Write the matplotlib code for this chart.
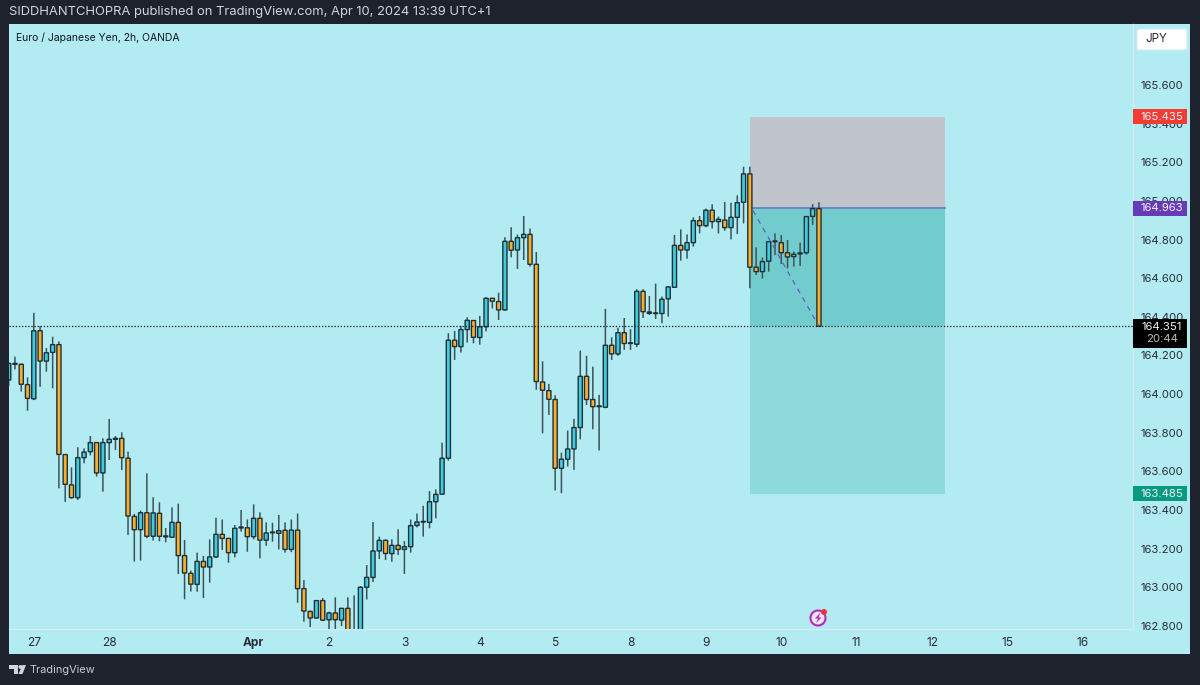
import matplotlib
matplotlib.use("Agg")
import matplotlib.pyplot as plt
from matplotlib.patches import Rectangle, FancyBboxPatch, Polygon, Circle
from matplotlib.transforms import blended_transform_factory

plt.rcParams['font.family'] = ['Inter', 'DejaVu Sans']

# 2h candles
opens = [164.073, 164.159, 164.154, 164.049, 163.976, 164.328, 164.171, 164.216, 164.256, 163.687,
         163.530, 163.464, 163.671, 163.702, 163.749, 163.592, 163.749, 163.771, 163.771, 163.668,
         163.367, 163.298, 163.386, 163.264, 163.383, 163.266, 163.259, 163.336, 163.164, 163.072,
         163.015, 163.134, 163.105, 163.157, 163.274, 163.253, 163.179, 163.312, 163.308, 163.262,
         163.357, 163.244, 163.286, 163.279, 163.295, 163.196, 163.296, 162.993, 162.875, 162.841,
         162.931, 162.832, 162.867, 162.830, 162.891, 162.700, 162.700, 163.000, 163.051, 163.188,
         163.243, 163.174, 163.217, 163.196, 163.210, 163.320, 163.341, 163.336, 163.443, 163.482,
         163.668, 164.279, 164.246, 164.334, 164.381, 164.293, 164.349, 164.496, 164.479, 164.436,
         164.791, 164.746, 164.810, 164.827, 164.672, 164.063, 164.018, 163.972, 163.616, 163.663,
         163.716, 163.827, 164.092, 163.972, 163.939, 163.932, 164.253, 164.208, 164.318, 164.265,
         164.258, 164.532, 164.425, 164.420, 164.417, 164.493, 164.553, 164.770, 164.746, 164.784,
         164.898, 164.872, 164.952, 164.893, 164.901, 164.862, 164.915, 164.993, 165.140, 164.657,
         164.634, 164.688, 164.793, 164.784, 164.732, 164.712, 164.731, 164.732, 164.920, 164.960]
closes = [164.159, 164.154, 164.051, 163.978, 164.328, 164.171, 164.214, 164.256, 163.688, 163.533,
          163.464, 163.671, 163.700, 163.749, 163.592, 163.749, 163.766, 163.766, 163.671, 163.369,
          163.298, 163.386, 163.264, 163.385, 163.264, 163.261, 163.336, 163.164, 163.074, 163.016,
          163.134, 163.105, 163.157, 163.274, 163.253, 163.179, 163.305, 163.307, 163.262, 163.357,
          163.244, 163.281, 163.282, 163.293, 163.196, 163.296, 162.993, 162.877, 162.841, 162.931,
          162.830, 162.867, 162.832, 162.891, 162.700, 162.600, 163.000, 163.051, 163.188, 163.243,
          163.175, 163.217, 163.196, 163.210, 163.319, 163.338, 163.338, 163.443, 163.481, 163.668,
          164.279, 164.246, 164.334, 164.382, 164.294, 164.349, 164.496, 164.481, 164.436, 164.791,
          164.745, 164.810, 164.827, 164.672, 164.065, 164.020, 163.973, 163.616, 163.663, 163.716,
          163.827, 164.092, 163.972, 163.935, 163.935, 164.253, 164.208, 164.318, 164.262, 164.262,
          164.532, 164.427, 164.418, 164.417, 164.491, 164.555, 164.770, 164.746, 164.784, 164.898,
          164.872, 164.952, 164.893, 164.905, 164.862, 164.915, 164.991, 165.140, 164.657, 164.634,
          164.686, 164.789, 164.789, 164.732, 164.710, 164.724, 164.726, 164.919, 164.960, 164.351]
highs = [164.159, 164.194, 164.159, 164.087, 164.421, 164.352, 164.239, 164.297, 164.273, 163.687,
         163.621, 163.725, 163.719, 163.783, 163.749, 163.771, 163.871, 163.783, 163.802, 163.702,
         163.380, 163.397, 163.590, 163.466, 163.440, 163.307, 163.414, 163.433, 163.245, 163.086,
         163.179, 163.162, 163.248, 163.360, 163.351, 163.253, 163.322, 163.400, 163.351, 163.429,
         163.388, 163.336, 163.334, 163.374, 163.336, 163.351, 163.382, 163.037, 162.879, 162.931,
         162.944, 162.874, 162.948, 162.891, 162.948, 162.958, 163.006, 163.115, 163.338, 163.262,
         163.248, 163.248, 163.300, 163.239, 163.351, 163.382, 163.422, 163.498, 163.507, 163.749,
         164.315, 164.327, 164.353, 164.398, 164.381, 164.405, 164.501, 164.496, 164.525, 164.812,
         164.864, 164.826, 164.922, 164.857, 164.736, 164.170, 164.053, 163.994, 163.697, 163.811,
         163.872, 164.225, 164.198, 164.142, 163.996, 164.441, 164.294, 164.343, 164.394, 164.336,
         164.543, 164.543, 164.508, 164.572, 164.505, 164.560, 164.824, 164.853, 164.827, 164.915,
         164.922, 164.960, 164.983, 164.919, 164.995, 164.991, 165.029, 165.177, 165.177, 164.760,
         164.707, 164.793, 164.832, 164.824, 164.798, 164.738, 164.784, 164.922, 164.984, 164.993]
lows = [164.042, 164.128, 164.013, 163.914, 163.969, 164.038, 164.116, 164.030, 163.512, 163.442,
        163.459, 163.452, 163.642, 163.683, 163.573, 163.495, 163.659, 163.711, 163.607, 163.271,
        163.133, 163.138, 163.254, 163.242, 163.238, 163.233, 163.255, 163.069, 162.938, 162.978,
        162.977, 162.944, 163.024, 163.151, 163.193, 163.127, 163.155, 163.288, 163.184, 163.248,
        163.150, 163.215, 163.236, 163.196, 163.179, 163.182, 162.920, 162.822, 162.794, 162.837,
        162.825, 162.740, 162.740, 162.799, 162.650, 162.550, 162.660, 162.937, 163.027, 163.146,
        163.141, 163.132, 163.167, 163.069, 163.179, 163.310, 163.262, 163.305, 163.357, 163.478,
        163.656, 164.177, 164.215, 164.267, 164.263, 164.256, 164.325, 164.443, 164.384, 164.432,
        164.708, 164.648, 164.694, 164.660, 164.022, 163.797, 163.892, 163.501, 163.487, 163.625,
        163.608, 163.766, 163.944, 163.818, 163.708, 163.927, 164.177, 164.198, 164.229, 164.229,
        164.243, 164.394, 164.410, 164.389, 164.367, 164.401, 164.551, 164.691, 164.701, 164.763,
        164.832, 164.864, 164.857, 164.832, 164.846, 164.801, 164.829, 164.884, 164.548, 164.617,
        164.598, 164.634, 164.720, 164.674, 164.651, 164.660, 164.663, 164.722, 164.876, 164.351]

price_ticks = [165.6, 165.4, 165.2, 165.0, 164.8, 164.6, 164.4, 164.2, 164.0, 163.8, 163.6, 163.4, 163.2, 163.0, 162.8]
date_pos = [4, 16, 39, 51, 63, 75, 87, 99, 111, 123, 135, 147, 159, 171]
date_labels = ['27', '28', 'Apr', '2', '3', '4', '5', '8', '9', '10', '11', '12', '15', '16']

stop_price = 165.435
entry_price = 164.963
target_price = 163.485
last_price = 164.351
pos_start = 118
pos_end = 149.1

dark = '#1E222D'
pane = '#B2EBF2'
W, H = 1200, 685

fig = plt.figure(figsize=(W / 100, H / 100), dpi=100, facecolor=dark)
fig.patches.append(Rectangle((9 / W, 1 - 654 / H), 1181 / W, 630 / H, transform=fig.transFigure,
                             facecolor=pane, edgecolor='none', zorder=-5))

ax = fig.add_axes([9 / W, 1 - 629 / H, 1124 / W, 605 / H])
ax.set_facecolor(pane)
ax.set_xlim(0.05, 179.0)
ax.set_ylim(162.784, 165.916)

# position tool
ax.fill_between([pos_start, pos_end], entry_price, stop_price, color='#C0C5CC', lw=0, zorder=1)
ax.fill_between([pos_start, pos_end], target_price, last_price, color='#8FDADC', lw=0, zorder=1)
ax.fill_between([pos_start, pos_end], last_price, entry_price, color='#72CCCD', lw=0, zorder=1)
ax.plot([pos_start, pos_end], [entry_price, entry_price], color='#6F7FC4', lw=1.3, zorder=2)
ax.plot([pos_start + 0.5, 129], [164.95, last_price], color='#5E5FBE', lw=0.9, ls=(0, (4, 4)), zorder=4)

# candles, no snapping so they keep the soft look of the screenshot
for i in range(len(opens)):
    up = closes[i] >= opens[i]
    ax.vlines(i, lows[i], highs[i], color='#3C5258', lw=1.1, zorder=3, snap=False)
    body_low = min(opens[i], closes[i])
    body_h = abs(closes[i] - opens[i])
    ax.add_patch(Rectangle((i - 0.33, body_low), 0.66, body_h, facecolor='#3FCBE0' if up else '#F9AE2D',
                           edgecolor='#1F3036', lw=1.0, zorder=3, snap=False))

ax.axhline(last_price, color='#10181C', lw=0.9, ls=(0, (1, 1.5)), zorder=5)

ax.set_xticks(date_pos)
ax.set_xticklabels(date_labels, fontsize=8.6, color='#2A2E39')
ax.get_xticklabels()[2].set_fontweight('bold')
ax.tick_params(axis='x', length=0, pad=6)
ax.yaxis.tick_right()
ax.set_yticks(price_ticks)
ax.set_yticklabels(['%.3f' % p for p in price_ticks], fontsize=8.2, color='#2A2E39')
ax.tick_params(axis='y', length=0, pad=5.5)
for name, sp in ax.spines.items():
    sp.set_visible(name in ('right', 'bottom'))
    sp.set_color('#D3EFF3')
    sp.set_linewidth(0.9)

# price tags on the scale
trans = blended_transform_factory(ax.transAxes, ax.transData)
tag_x0 = 1.0
tag_w = 54 / 1124
tag_mid = 1 + 29 / 1124
px = 3.132 / 605
for price, col, half in [(stop_price, '#F23C33', 7.5), (entry_price, '#673AB7', 7.5), (target_price, '#089981', 7.5)]:
    ax.add_patch(Rectangle((tag_x0, price - half * px), tag_w, 2 * half * px, transform=trans, facecolor=col,
                           edgecolor='none', clip_on=False, zorder=6))
    ax.text(tag_mid, price - 0.3 * px, '%.3f' % price, transform=trans, ha='center', va='center', fontsize=8.2,
            color='#F4F4F6', zorder=7, clip_on=False)
ax.add_patch(Rectangle((tag_x0, last_price - 22 * px), tag_w, 29 * px, transform=trans, facecolor='black',
                       edgecolor='none', clip_on=False, zorder=6))
ax.text(tag_mid, last_price - 0.3 * px, '%.3f' % last_price, transform=trans, ha='center', va='center', fontsize=8.2,
        color='#F0F0F0', zorder=7, clip_on=False)
ax.text(tag_mid, last_price - 13 * px, '20:44', transform=trans, ha='center', va='center', fontsize=8.2,
        color='#B8B8B8', zorder=7, clip_on=False)

# header, legend text, currency button
fig.text(9 / W, 1 - 12 / H, 'SIDDHANTCHOPRA published on TradingView.com, Apr 10, 2024 13:39 UTC+1', fontsize=9.35,
         color='#D1D4DC', va='center')
fig.text(16 / W, 1 - 37.5 / H, 'Euro / Japanese Yen, 2h, OANDA', fontsize=7.5, color='#131722', va='center')
fig.patches.append(FancyBboxPatch((1137 / W, 1 - 50 / H), 50 / W, 21 / H, transform=fig.transFigure,
                                  boxstyle='round,pad=0,rounding_size=0.003', facecolor='white',
                                  edgecolor='#D3EFF3', lw=0.8, zorder=3))
fig.text(1145 / W, 1 - 39 / H, 'JPY', fontsize=8.4, color='#2A2E39', va='center', zorder=4)

# lightning marker
fig.patches.append(Circle((818, H - 618), 7.5, transform=None, facecolor='#F0E6F4', edgecolor='#B52BB8',
                          lw=1.5, zorder=6))
fig.patches.append(Polygon([(820.5, H - 612.5), (815, H - 618.5), (818, H - 618.5), (816, H - 623), (821.5, H - 617.5), (818.5, H - 617.5)],
                           transform=None, facecolor='#A52BC0', edgecolor='none', zorder=7))
fig.patches.append(Circle((824, H - 612), 3, transform=None, facecolor='#F0323C', edgecolor='none', zorder=8))

# TradingView logo
logo = '#D1D4DC'
fig.patches.append(Polygon([(9, H - 665), (18, H - 665), (18, H - 674), (13.5, H - 674), (13.5, H - 669), (9, H - 669)],
                           transform=None, facecolor=logo, edgecolor='none'))
fig.patches.append(Circle((20.5, H - 667), 2, transform=None, facecolor=logo, edgecolor='none'))
fig.patches.append(Polygon([(22.5, H - 665), (26, H - 665), (22.5, H - 674), (18.5, H - 674)],
                           transform=None, facecolor=logo, edgecolor='none'))
fig.text(30 / W, 1 - 670 / H, 'TradingView', fontsize=7.9, color='#C8CBD3', va='center')

fig.savefig('out.png', dpi=100, facecolor=dark)
